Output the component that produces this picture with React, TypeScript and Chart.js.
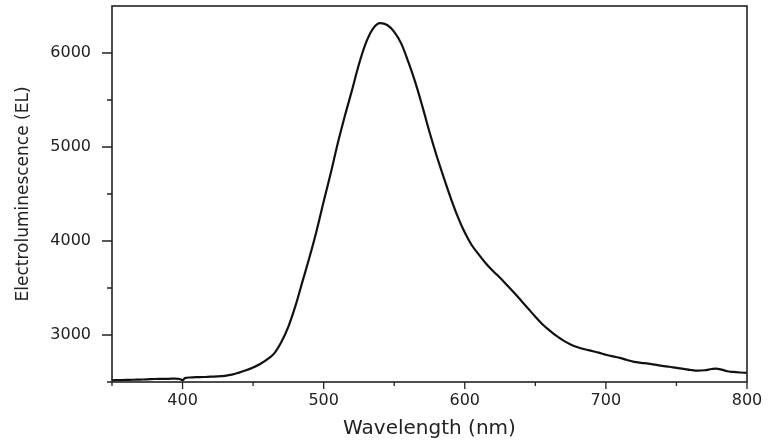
import React, { useEffect, useRef } from 'react';
import { Chart, registerables } from 'chart.js';

Chart.register(...registerables);

const wavelengths = [
  350, 355, 360, 365, 370, 375, 380, 385, 390, 395, 398, 400, 402, 405, 410, 415, 420, 425, 430, 435,
  440, 445, 450, 455, 460, 465, 470, 475, 480, 485, 490, 495, 500, 505, 510, 515, 520, 525, 530, 535,
  540, 545, 550, 555, 560, 565, 570, 575, 580, 585, 590, 595, 600, 605, 610, 615, 620, 625, 630, 635,
  640, 645, 650, 655, 660, 665, 670, 675, 680, 685, 690, 695, 700, 705, 710, 715, 720, 725, 730, 735,
  740, 745, 750, 755, 760, 765, 770, 775, 778, 782, 786, 790, 795, 800,
];

const intensity = [
  2518, 2520, 2522, 2524, 2526, 2528, 2532, 2533, 2534, 2536, 2532, 2520, 2544, 2548, 2552, 2553, 2557, 2560, 2566, 2578,
  2600, 2625, 2655, 2692, 2740, 2805, 2925, 3090, 3310, 3570, 3830, 4110, 4420, 4720, 5040, 5330, 5600, 5880, 6110, 6260,
  6318, 6298, 6225, 6100, 5905, 5685, 5430, 5160, 4910, 4680, 4460, 4260, 4090, 3955, 3855, 3760, 3680, 3610, 3530, 3450,
  3365, 3280, 3195, 3115, 3050, 2990, 2940, 2900, 2870, 2848, 2830, 2812, 2790, 2772, 2756, 2734, 2714, 2704, 2696, 2684,
  2672, 2662, 2650, 2640, 2628, 2620, 2625, 2638, 2643, 2632, 2614, 2607, 2601, 2597,
];

const xTickLabels = [400, 500, 600, 700, 800];
const xMinorTicks = [350, 450, 550, 650, 750];
const yTickLabels = [3000, 4000, 5000, 6000];
const yMinorTicks = [2500, 3500, 4500, 5500];

const X_MIN = 350;
const X_MAX = 800;
const Y_MIN = 2500;
const Y_MAX = 6500;

const framePlugin = {
  id: 'frameTicks',
  afterDatasetsDraw(chart: any) {
    const { ctx, chartArea, scales } = chart;
    const { left, right, top, bottom } = chartArea;
    const x = scales.x;
    const y = scales.y;
    ctx.save();
    ctx.strokeStyle = '#222';
    ctx.lineWidth = 1.6;
    ctx.strokeRect(left, top, right - left, bottom - top);
    ctx.lineWidth = 1.3;
    ctx.beginPath();
    xTickLabels.forEach((v) => {
      const px = x.getPixelForValue(v);
      ctx.moveTo(px, bottom);
      ctx.lineTo(px, bottom + 7);
    });
    xMinorTicks.forEach((v) => {
      const px = x.getPixelForValue(v);
      ctx.moveTo(px, bottom);
      ctx.lineTo(px, bottom + 4);
    });
    yTickLabels.forEach((v) => {
      const py = y.getPixelForValue(v);
      ctx.moveTo(left, py);
      ctx.lineTo(left - 10, py);
    });
    yMinorTicks.forEach((v) => {
      const py = y.getPixelForValue(v);
      ctx.moveTo(left, py);
      ctx.lineTo(left - 5, py);
    });
    ctx.stroke();
    ctx.restore();
  },
};

function zeroPadding(scale: any) {
  scale.paddingTop = 0;
  scale.paddingBottom = 0;
  scale.paddingLeft = 0;
  scale.paddingRight = 0;
}

export default function App() {
  const canvasRef = useRef<HTMLCanvasElement | null>(null);

  useEffect(() => {
    if (!canvasRef.current) return;
    const points = wavelengths.map((w, i) => ({ x: w, y: intensity[i] }));
    const font = 'DejaVu Sans';
    const chart = new Chart(canvasRef.current, {
      type: 'line',
      data: {
        datasets: [
          {
            data: points,
            borderColor: '#111',
            borderWidth: 2.2,
            pointRadius: 0,
            fill: false,
            cubicInterpolationMode: 'monotone',
          },
        ],
      },
      options: {
        responsive: false,
        animation: false,
        events: [],
        layout: { autoPadding: false, padding: { top: 6, right: 21, left: 0, bottom: 0 } },
        plugins: {
          legend: { display: false },
          tooltip: { enabled: false },
        },
        scales: {
          x: {
            type: 'linear',
            min: X_MIN,
            max: X_MAX,
            grid: { display: true, drawOnChartArea: false, drawTicks: false },
            border: { display: false },
            ticks: {
              stepSize: 50,
              autoSkip: false,
              maxRotation: 0,
              padding: 9,
              color: '#222',
              font: { family: font, size: 16 },
              callback: (v: any) => (xTickLabels.includes(Number(v)) ? String(v) : null),
            },
            title: {
              display: true,
              text: 'Wavelength (nm)',
              color: '#222',
              font: { family: font, size: 20 },
              padding: { top: 0, bottom: 6 },
            },
            afterFit: (scale: any) => {
              scale.height = 65;
              zeroPadding(scale);
            },
          },
          y: {
            type: 'linear',
            min: Y_MIN,
            max: Y_MAX,
            grid: { display: true, drawOnChartArea: false, drawTicks: false },
            border: { display: false },
            ticks: {
              stepSize: 500,
              autoSkip: false,
              padding: 21,
              color: '#222',
              font: { family: font, size: 16 },
              callback: (v: any) => (yTickLabels.includes(Number(v)) ? String(v) : null),
            },
            title: {
              display: true,
              text: 'Electroluminescence (EL)',
              color: '#222',
              font: { family: font, size: 17 },
              padding: { top: 13, bottom: 0 },
            },
            afterFit: (scale: any) => {
              scale.width = 112;
              zeroPadding(scale);
            },
          },
        },
      },
      plugins: [framePlugin],
    });
    return () => chart.destroy();
  }, []);

  return (
    <div style={{ position: 'fixed', left: 0, top: 0, width: 768, height: 447, background: '#fff' }}>
      <canvas ref={canvasRef} width={768} height={447} style={{ display: 'block' }} />
    </div>
  );
}
